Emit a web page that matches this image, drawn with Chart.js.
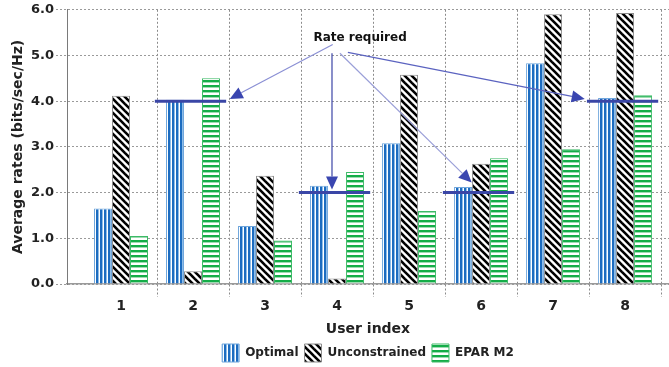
<!DOCTYPE html>
<html>
<head>
<meta charset="utf-8">
<script src="https://cdn.jsdelivr.net/npm/chart.js@4.4.1/dist/chart.umd.min.js"></script>
<style>
html,body{margin:0;padding:0;background:#fff;}
#wrap{width:669px;height:367px;}
</style>
</head>
<body>
<div id="wrap"><canvas id="c" width="669" height="367"></canvas></div>
<script>
// ---- data ----
const users = [1, 2, 3, 4, 5, 6, 7, 8];
const optimal = [1.65, 4.03, 1.27, 2.15, 3.08, 2.12, 4.83, 4.07];
const unconstrained = [4.12, 0.28, 2.37, 0.12, 4.58, 2.63, 5.9, 5.93];
const eparM2 = [1.05, 4.5, 0.95, 2.45, 1.6, 2.75, 2.95, 4.13];
const requiredRate = [null, 4.0, null, 2.0, null, 2.0, null, 4.0];
const yTicks = [0, 1, 2, 3, 4, 5, 6];
const seriesNames = ['Optimal', 'Unconstrained', 'EPAR M2'];
const annotationText = 'Rate required';

// ---- patterns ----
function makePattern(w, h, draw) {
  const c = document.createElement('canvas');
  c.width = w; c.height = h;
  const g = c.getContext('2d');
  g.fillStyle = '#ffffff';
  g.fillRect(0, 0, w, h);
  draw(g, w, h);
  return document.getElementById('c').getContext('2d').createPattern(c, 'repeat');
}
const patOptimal = makePattern(4, 4, (g) => {
  g.fillStyle = '#1c6cc0'; g.fillRect(0, 0, 2, 4);
  g.fillStyle = '#8fbde8'; g.fillRect(2, 0, 1, 4);
});
const patUncon = makePattern(7, 7, (g, w, h) => {
  g.strokeStyle = '#000'; g.lineWidth = 2.6;
  for (let k = -w; k <= w; k += w) {
    g.beginPath(); g.moveTo(k - 1, -1); g.lineTo(k + w + 1, h + 1); g.stroke();
  }
});
const patEpar = makePattern(4, 5, (g) => {
  g.fillStyle = '#14ad48'; g.fillRect(0, 0, 4, 2);
  g.fillStyle = '#9edcb2'; g.fillRect(0, 2, 4, 1);
});

const FONT = '"DejaVu Sans", Verdana, sans-serif';

function toPoints(arr) { return users.map((u, i) => ({ x: u, y: arr[i] })); }

// required-rate lines and arrows (in data units)
const annot = {
  label: { x: 4.32, y: 5.39 },
  arrows: [
    { from: { x: 3.94, y: 5.24 }, to: { x: 2.51, y: 4.05 }, color: '#8a8fd4' },
    { from: { x: 3.93, y: 5.05 }, to: { x: 3.93, y: 2.07 }, color: '#3b44a6' },
    { from: { x: 4.04, y: 5.05 }, to: { x: 5.87, y: 2.22 }, color: '#9a9fd8' },
    { from: { x: 4.15, y: 5.07 }, to: { x: 7.44, y: 4.05 }, color: '#5b63c0' }
  ]
};

const overlay = {
  id: 'overlay',
  afterDatasetsDraw(chart) {
    const { ctx, scales: { x, y } } = chart;
    ctx.save();
    ctx.strokeStyle = '#3a46a6';
    ctx.lineWidth = 3;
    users.forEach((u, i) => {
      const r = requiredRate[i];
      if (r == null) return;
      ctx.beginPath();
      ctx.moveTo(x.getPixelForValue(u - 0.53), y.getPixelForValue(r));
      ctx.lineTo(x.getPixelForValue(u + 0.46), y.getPixelForValue(r));
      ctx.stroke();
    });
    annot.arrows.forEach(a => {
      const x1 = x.getPixelForValue(a.from.x), y1 = y.getPixelForValue(a.from.y);
      const x2 = x.getPixelForValue(a.to.x), y2 = y.getPixelForValue(a.to.y);
      const ang = Math.atan2(y2 - y1, x2 - x1);
      const L = 13, W = 6;
      const bx = x2 - L * Math.cos(ang), by = y2 - L * Math.sin(ang);
      ctx.strokeStyle = a.color; ctx.lineWidth = 1.2;
      ctx.beginPath(); ctx.moveTo(x1, y1); ctx.lineTo(bx, by); ctx.stroke();
      ctx.fillStyle = '#3a46b0';
      ctx.beginPath();
      ctx.moveTo(x2, y2);
      ctx.lineTo(bx + W * Math.sin(ang), by - W * Math.cos(ang));
      ctx.lineTo(bx - W * Math.sin(ang), by + W * Math.cos(ang));
      ctx.closePath(); ctx.fill();
    });
    ctx.fillStyle = '#111';
    ctx.font = 'bold 12px ' + FONT;
    ctx.textAlign = 'center'; ctx.textBaseline = 'middle';
    ctx.fillText(annotationText, x.getPixelForValue(annot.label.x), y.getPixelForValue(annot.label.y));
    ctx.restore();
  }
};

new Chart(document.getElementById('c'), {
  type: 'bar',
  data: {
    datasets: [
      { label: seriesNames[0], data: toPoints(optimal), backgroundColor: patOptimal, borderColor: '#6fa6dc', borderWidth: 1 },
      { label: seriesNames[1], data: toPoints(unconstrained), backgroundColor: patUncon, borderColor: '#8c8c8c', borderWidth: 1 },
      { label: seriesNames[2], data: toPoints(eparM2), backgroundColor: patEpar, borderColor: '#3cba66', borderWidth: 1 }
    ]
  },
  options: {
    responsive: false,
    animation: false,
    devicePixelRatio: 1,
    layout: { padding: { top: 9, right: 0, left: 0, bottom: -5 } },
    datasets: { bar: { categoryPercentage: 0.75, barPercentage: 1.0 } },
    plugins: {
      legend: {
        position: 'bottom',
        fullSize: false,
        labels: {
          font: { family: FONT, size: 12, weight: 'bold' },
          color: '#222',
          boxWidth: 17, boxHeight: 18, padding: 6
        }
      },
      tooltip: { enabled: false }
    },
    scales: {
      x: {
        type: 'linear',
        offset: false,
        min: 0.25, max: 8.61,
        afterBuildTicks: s => { s.ticks = users.map(v => ({ value: v })); },
        afterFit: s => { s.height = 54; },
        ticks: {
          font: { family: FONT, size: 14, weight: 'bold' },
          color: '#222', padding: 1,
          callback: v => String(v)
        },
        grid: {
          offset: true,
          color: c => (c.index === 0 || c.index >= users.length) ? 'rgba(0,0,0,0)' : '#8a8a8a',
          lineWidth: 1,
          tickBorderDash: [2, 2],
          tickLength: 13
        },
        border: { color: '#9a9a9a', width: 1.5, dash: [2, 2] },
        title: {
          display: true, text: 'User index',
          font: { family: FONT, size: 14, weight: 'bold' },
          color: '#222', padding: { top: 2, bottom: 0 }
        }
      },
      y: {
        min: 0, max: 6,
        afterBuildTicks: s => { s.ticks = yTicks.map(v => ({ value: v })); },
        afterFit: s => { s.width = 67; },
        ticks: {
          font: { family: FONT, size: 13, weight: 'bold' },
          color: '#222', padding: 2,
          callback: v => Number(v).toFixed(1)
        },
        grid: {
          color: '#9a9a9a',
          tickBorderDash: [2, 2],
          tickLength: 11
        },
        border: { color: '#7a7a7a', width: 1, dash: [2, 2] },
        title: {
          display: true, text: 'Average rates (bits/sec/Hz)',
          font: { family: FONT, size: 14, weight: 'bold' },
          color: '#222', padding: { top: 10, bottom: 0 }
        }
      }
    }
  },
  plugins: [overlay]
});
</script>
</body>
</html>
